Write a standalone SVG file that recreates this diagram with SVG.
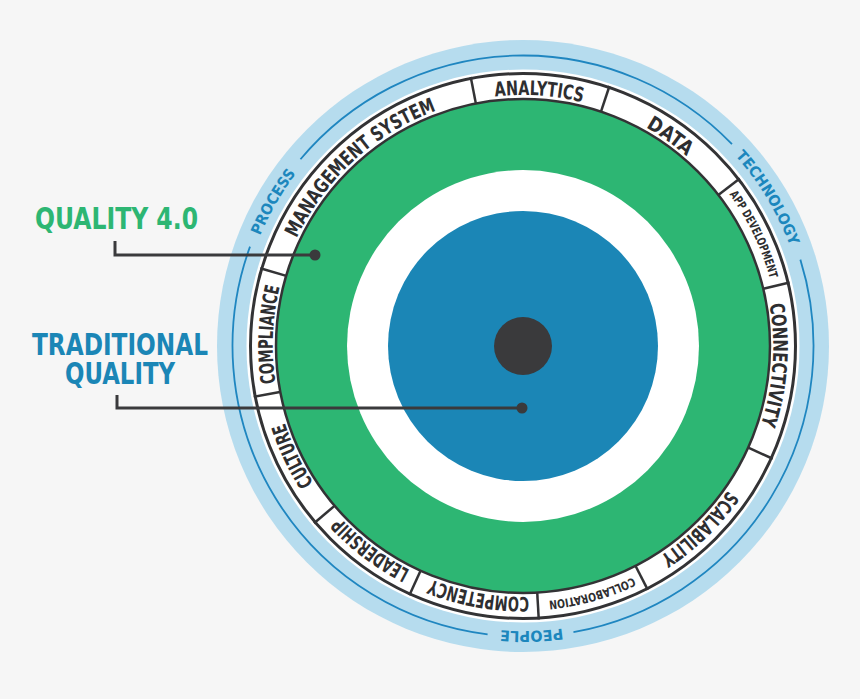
<svg xmlns="http://www.w3.org/2000/svg" width="860" height="699" viewBox="0 0 860 699">
  <defs>
    <path id="pBig" d="M279.41,402.24 A250,250 0 1 1 766.59,289.76 A250,250 0 1 1 279.41,402.24"/>
    <path id="pSmall" d="M273.56,403.59 A256,256 0 1 1 772.44,288.41 A256,256 0 1 1 273.56,403.59"/>
    <path id="pOuter" d="M245.30,410.11 A285,285 0 1 1 800.70,281.89 A285,285 0 1 1 245.30,410.11"/>
    <style>
      .cond { font-family: "Liberation Sans Narrow", "DejaVu Sans Condensed", "Liberation Sans", sans-serif; font-weight: bold; }
      .seg { font-size: 20px; fill: #2e2e30; }
      .segS { font-size: 12px; fill: #2e2e30; }
      .dim { font-size: 15px; fill: #1c87bd; }
      .div { stroke: #333335; stroke-width: 2.5; }
      .lead { fill: none; stroke: #3a3a3c; stroke-width: 3; }
      .bline { fill: none; stroke: #1f86c0; stroke-width: 1.8; }
    </style>
  </defs>
  <rect width="860" height="699" fill="#f6f6f6"/>

  <g id="outer-band">
    <circle cx="523" cy="346" r="306" fill="#b6dcee"/>
    <circle cx="523" cy="346" r="276.5" fill="#ffffff"/>
    <path class="bline" d="M300.46,159.27 A290.5,290.5 0 0 1 731.97,144.20"/>
    <path class="bline" d="M800.36,259.61 A290.5,290.5 0 0 1 573.44,632.09"/>
    <path class="bline" d="M487.60,634.34 A290.5,290.5 0 0 1 250.02,246.64"/>
    <text class="cond dim" text-anchor="middle"><textPath href="#pOuter" startOffset="11.94%" textLength="72" lengthAdjust="spacingAndGlyphs">PROCESS</textPath></text>
    <text class="cond dim" text-anchor="middle"><textPath href="#pOuter" startOffset="44.94%" textLength="106" lengthAdjust="spacingAndGlyphs">TECHNOLOGY</textPath></text>
    <text class="cond dim" text-anchor="middle"><textPath href="#pOuter" startOffset="78.14%" textLength="62" lengthAdjust="spacingAndGlyphs">PEOPLE</textPath></text>
  </g>

  <g id="label-ring">
    <circle cx="523" cy="346" r="272.5" fill="#ffffff" stroke="#333335" stroke-width="3"/>
    <g id="dividers">
      <line class="div" x1="523" y1="72" x2="523" y2="100" transform="rotate(349 523 346)"/>
      <line class="div" x1="523" y1="72" x2="523" y2="100" transform="rotate(18.4 523 346)"/>
      <line class="div" x1="523" y1="72" x2="523" y2="100" transform="rotate(52.3 523 346)"/>
      <line class="div" x1="523" y1="72" x2="523" y2="100" transform="rotate(76.6 523 346)"/>
      <line class="div" x1="523" y1="72" x2="523" y2="100" transform="rotate(114.3 523 346)"/>
      <line class="div" x1="523" y1="72" x2="523" y2="100" transform="rotate(152.9 523 346)"/>
      <line class="div" x1="523" y1="72" x2="523" y2="100" transform="rotate(176.7 523 346)"/>
      <line class="div" x1="523" y1="72" x2="523" y2="100" transform="rotate(204.5 523 346)"/>
      <line class="div" x1="523" y1="72" x2="523" y2="100" transform="rotate(229.7 523 346)"/>
      <line class="div" x1="523" y1="72" x2="523" y2="100" transform="rotate(259.3 523 346)"/>
      <line class="div" x1="523" y1="72" x2="523" y2="100" transform="rotate(286.5 523 346)"/>
    </g>
  </g>

  <g id="seg-management-system"><text class="cond seg" text-anchor="middle"><textPath href="#pBig" startOffset="16.83%" textLength="194" lengthAdjust="spacingAndGlyphs">MANAGEMENT SYSTEM</textPath></text></g>
  <g id="seg-analytics"><text class="cond seg" text-anchor="middle"><textPath href="#pBig" startOffset="29.64%" textLength="88" lengthAdjust="spacingAndGlyphs">ANALYTICS</textPath></text></g>
  <g id="seg-data"><text class="cond seg" text-anchor="middle"><textPath href="#pBig" startOffset="38.36%" textLength="50" lengthAdjust="spacingAndGlyphs">DATA</textPath></text></g>
  <g id="seg-app-development"><text class="cond segS" text-anchor="middle"><textPath href="#pSmall" startOffset="46.44%" textLength="94" lengthAdjust="spacingAndGlyphs">APP DEVELOPMENT</textPath></text></g>
  <g id="seg-connectivity"><text class="cond seg" text-anchor="middle"><textPath href="#pBig" startOffset="54.81%" textLength="122" lengthAdjust="spacingAndGlyphs">CONNECTIVITY</textPath></text></g>
  <g id="seg-scalability"><text class="cond seg" text-anchor="middle"><textPath href="#pBig" startOffset="66.39%" textLength="95" lengthAdjust="spacingAndGlyphs">SCALABILITY</textPath></text></g>
  <g id="seg-collaboration"><text class="cond segS" text-anchor="middle"><textPath href="#pSmall" startOffset="74.28%" textLength="88" lengthAdjust="spacingAndGlyphs">COLLABORATION</textPath></text></g>
  <g id="seg-competency"><text class="cond seg" text-anchor="middle"><textPath href="#pBig" startOffset="81.42%" textLength="100" lengthAdjust="spacingAndGlyphs">COMPETENCY</textPath></text></g>
  <g id="seg-leadership"><text class="cond seg" text-anchor="middle"><textPath href="#pBig" startOffset="88.86%" textLength="88" lengthAdjust="spacingAndGlyphs">LEADERSHIP</textPath></text></g>
  <g id="seg-culture"><text class="cond seg" text-anchor="middle"><textPath href="#pBig" startOffset="96.53%" textLength="67" lengthAdjust="spacingAndGlyphs">CULTURE</textPath></text></g>
  <g id="seg-compliance"><text class="cond seg" text-anchor="middle"><textPath href="#pBig" startOffset="4.33%" textLength="97" lengthAdjust="spacingAndGlyphs">COMPLIANCE</textPath></text></g>

  <g id="quality-4-0-ring">
    <circle cx="523" cy="346" r="247" fill="#2db673" stroke="#333335" stroke-width="2.5"/>
  </g>
  <g id="gap-ring">
    <circle cx="523" cy="346" r="176" fill="#ffffff"/>
  </g>
  <g id="traditional-quality-disc">
    <circle cx="523" cy="346" r="135" fill="#1b86b6"/>
  </g>
  <g id="core">
    <circle cx="523" cy="346" r="29" fill="#3a3a3c"/>
  </g>

  <g id="label-quality-4-0">
    <text class="cond" x="35" y="229" font-size="31" fill="#2db673" textLength="163" lengthAdjust="spacingAndGlyphs">QUALITY 4.0</text>
  </g>
  <g id="label-traditional-quality">
    <text class="cond" x="32" y="355" font-size="30" fill="#1b86b6" textLength="176" lengthAdjust="spacingAndGlyphs">TRADITIONAL</text>
    <text class="cond" x="65" y="384" font-size="30" fill="#1b86b6" textLength="110" lengthAdjust="spacingAndGlyphs">QUALITY</text>
  </g>

  <g id="connectors">
    <path class="lead" d="M115,241 V255 H315"/>
    <circle cx="315" cy="255" r="5.5" fill="#3a3a3c"/>
    <path class="lead" d="M117,395 V408 H522"/>
    <circle cx="522" cy="408" r="5.5" fill="#3a3a3c"/>
  </g>
</svg>
